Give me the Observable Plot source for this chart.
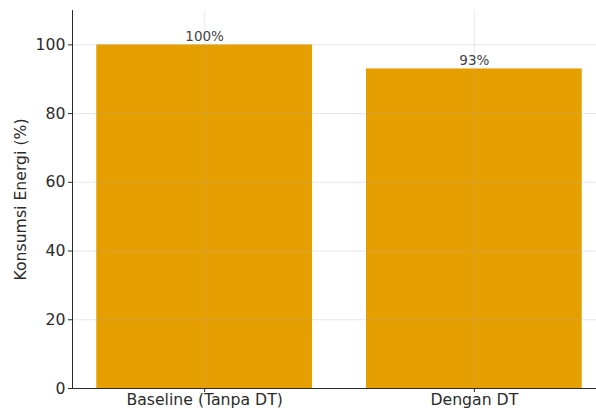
<!DOCTYPE html>
<html>
<head>
<meta charset="utf-8">
<script src="https://cdn.jsdelivr.net/npm/d3@7"></script>
<script src="https://cdn.jsdelivr.net/npm/@observablehq/plot@0.6"></script>
<style>
  html, body { margin: 0; padding: 0; background: #fff; overflow: hidden; }
  #chart { width: 596px; height: 410px; overflow: hidden; }
</style>
</head>
<body>
<div id="chart"></div>
<script>
const categories = ["Baseline (Tanpa DT)", "Dengan DT"];
const values = [100, 93];
const valueLabels = ["100%", "93%"];
const yTicks = [0, 20, 40, 60, 80, 100];

const data = categories.map((c, i) => ({i, cat: c, val: values[i], label: valueLabels[i]}));

const chart = Plot.plot({
  width: 596,
  height: 410,
  marginLeft: 72,
  marginRight: -10,
  marginTop: 10,
  marginBottom: 22,
  style: {fontFamily: "DejaVu Sans", color: "#2b2b2b", background: "#fff", overflow: "visible"},
  x: {domain: [-0.49, 1.49]},
  y: {domain: [0, 110]},
  marks: [
    Plot.rectY(data, {x1: d => d.i - 0.4, x2: d => d.i + 0.4, y1: 0, y2: "val", fill: "#E69F00"}),
    Plot.gridY(yTicks, {stroke: "#b0b0b0", strokeOpacity: 0.3}),
    Plot.gridX([0, 1], {stroke: "#b0b0b0", strokeOpacity: 0.25}),
    Plot.text(data, {x: "i", y: "val", text: "label", dy: -8.5, fontSize: 13.5, fill: "#444"}),
    Plot.axisY(yTicks, {tickSize: 4, fontSize: 15.7, tickPadding: 3, label: "Konsumsi Energi (%)", labelArrow: "none", labelAnchor: "center", labelOffset: 58}),
    Plot.axisX([0, 1], {tickSize: 4, fontSize: 15.7, tickPadding: 1, tickFormat: i => categories[i], label: null}),
    Plot.ruleY([0], {stroke: "#2b2b2b"}),
    Plot.ruleX([-0.49], {stroke: "#2b2b2b"})
  ]
});
document.getElementById("chart").appendChild(chart);
</script>
</body>
</html>
